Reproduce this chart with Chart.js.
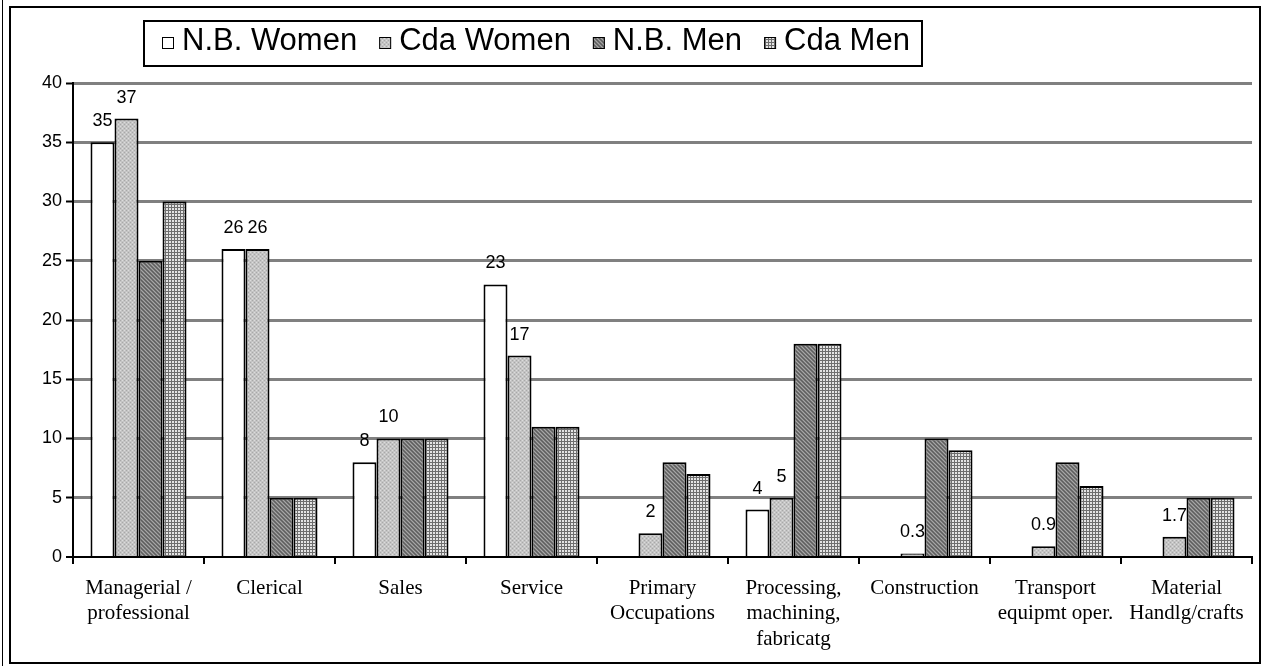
<!DOCTYPE html>
<html lang="en">
<head>
  <meta charset="UTF-8" />
  <title>Occupations: N.B. and Canada, Women and Men</title>
  <script src="https://cdn.jsdelivr.net/npm/chart.js"></script>
  <style>
    body {
      margin: 0;
      background: white;
    }
    #wrap {
      width: 1264px;
      height: 666px;
    }
  </style>
</head>
<body>

  <div id="wrap">
    <canvas id="occChart" width="1264" height="666"></canvas>
  </div>

  <script>
    // data
    const categories = [
      ['Managerial /', 'professional'],
      'Clerical',
      'Sales',
      'Service',
      ['Primary', 'Occupations'],
      ['Processing,', 'machining,', 'fabricatg'],
      'Construction',
      ['Transport', 'equipmt oper.'],
      ['Material', 'Handlg/crafts']
    ];
    const seriesNames = ['N.B. Women', 'Cda Women', 'N.B. Men', 'Cda Men'];
    const nbWomen  = [35, 26, 8, 23, 0, 4, 0, 0, 0];
    const cdaWomen = [37, 26, 10, 17, 2, 5, 0.3, 0.9, 1.7];
    const nbMen    = [25, 5, 10, 11, 8, 18, 10, 8, 5];
    const cdaMen   = [30, 5, 10, 11, 7, 18, 9, 6, 5];
    const yTicks   = [0, 5, 10, 15, 20, 25, 30, 35, 40];

    const SANS = "'Liberation Sans', Arial, sans-serif";
    const SERIF = "'Liberation Serif', 'Times New Roman', serif";

    // little fill patterns like the old spreadsheet ones
    function makePattern(kind) {
      const c = document.createElement('canvas');
      const g = c.getContext('2d');
      if (kind === 'white') {
        return '#ffffff';
      }
      if (kind === 'dots') {
        c.width = 4; c.height = 4;
        g.fillStyle = '#c4c4c4';
        g.fillRect(0, 0, 4, 4);
        g.fillStyle = '#a8a8a8';
        g.fillRect(0, 0, 1, 1);
        g.fillRect(2, 2, 1, 1);
        g.fillStyle = '#dcdcdc';
        g.fillRect(2, 0, 1, 1);
        g.fillRect(0, 2, 1, 1);
      } else if (kind === 'diag') {
        c.width = 4; c.height = 4;
        g.fillStyle = '#7a7a7a';
        g.fillRect(0, 0, 4, 4);
        g.fillStyle = '#a6a6a6';
        for (let i = 0; i < 4; i++) g.fillRect(i, (i + 1) % 4, 1, 1);
        g.fillStyle = '#5e5e5e';
        for (let i = 0; i < 4; i++) g.fillRect(i, (i + 3) % 4, 1, 1);
      } else if (kind === 'grid') {
        c.width = 3; c.height = 3;
        g.fillStyle = '#e4e4e4';
        g.fillRect(0, 0, 3, 3);
        g.fillStyle = '#6e6e6e';
        g.fillRect(0, 0, 3, 1);
        g.fillRect(0, 0, 1, 3);
      }
      return g.createPattern(c, 'repeat');
    }

    const fills = [makePattern('white'), makePattern('dots'), makePattern('diag'), makePattern('grid')];
    const values = [nbWomen, cdaWomen, nbMen, cdaMen];

    // frame round the whole picture and the boxed legend
    const framePlugin = {
      id: 'frame',
      afterDraw(chart) {
        const g = chart.ctx;
        g.save();
        g.strokeStyle = '#000';
        g.lineWidth = 1;
        g.beginPath();
        g.moveTo(2.5, 0);
        g.lineTo(2.5, 666);
        g.stroke();
        g.lineWidth = 2;
        g.strokeRect(10, 7, 1250, 656);

        // legend box
        g.fillStyle = '#fff';
        g.fillRect(144, 21, 778, 45);
        g.strokeRect(144, 21, 778, 45);
        g.font = '31px ' + SANS;
        g.textBaseline = 'alphabetic';
        let x = 162;
        seriesNames.forEach((name, i) => {
          g.fillStyle = fills[i];
          g.fillRect(x, 37, 12, 12);
          g.lineWidth = 1;
          g.strokeStyle = '#000';
          g.strokeRect(x + 0.5, 37.5, 11, 11);
          g.fillStyle = '#000';
          g.fillText(name, x + 20, 50);
          x += 20 + g.measureText(name).width + 22;
        });
        g.restore();
      }
    };

    // value labels over the women's bars
    const valueLabels = {
      id: 'valueLabels',
      afterDatasetsDraw(chart) {
        const g = chart.ctx;
        g.save();
        g.font = '18px ' + SANS;
        g.fillStyle = '#000';
        g.textAlign = 'center';
        g.textBaseline = 'middle';
        [0, 1].forEach(di => {
          const meta = chart.getDatasetMeta(di);
          meta.data.forEach((bar, i) => {
            const v = chart.data.datasets[di].data[i];
            if (!v) return;
            g.fillText(String(v), bar.x, bar.y - 21);
          });
        });
        g.restore();
      }
    };

    const ctx = document.getElementById('occChart').getContext('2d');

    new Chart(ctx, {
      type: 'bar',
      data: {
        labels: categories,
        datasets: seriesNames.map((name, i) => ({
          label: name,
          data: values[i],
          backgroundColor: fills[i],
          borderColor: '#000',
          borderWidth: 2,
          barPercentage: 1,
          categoryPercentage: 0.733
        }))
      },
      options: {
        responsive: false,
        animation: false,
        layout: {
          padding: { left: 10, right: 12, top: 83, bottom: 4 }
        },
        plugins: {
          legend: { display: false },
          tooltip: { enabled: false }
        },
        scales: {
          x: {
            afterFit(scale) { scale.height = 105; },
            grid: {
              offset: true,
              drawOnChartArea: false,
              color: '#000',
              lineWidth: 2,
              tickLength: 7
            },
            border: { color: '#000', width: 2 },
            ticks: {
              color: '#000',
              padding: 12,
              maxRotation: 0,
              autoSkip: false,
              font: { family: SERIF, size: 21, lineHeight: 1.2 }
            }
          },
          y: {
            min: 0,
            max: 40,
            afterFit(scale) { scale.width = 63; },
            afterBuildTicks(scale) {
              scale.ticks = yTicks.map(v => ({ value: v }));
            },
            grid: {
              color: c => c.tick && c.tick.value === 0 ? '#000' : '#808080',
              lineWidth: c => c.tick && c.tick.value === 0 ? 2 : 3,
              tickColor: '#000',
              tickWidth: 2,
              tickLength: 7
            },
            border: { color: '#000', width: 2 },
            ticks: {
              color: '#000',
              padding: 4,
              font: { family: SANS, size: 18 }
            }
          }
        }
      },
      plugins: [valueLabels, framePlugin]
    });
  </script>

</body>
</html>
